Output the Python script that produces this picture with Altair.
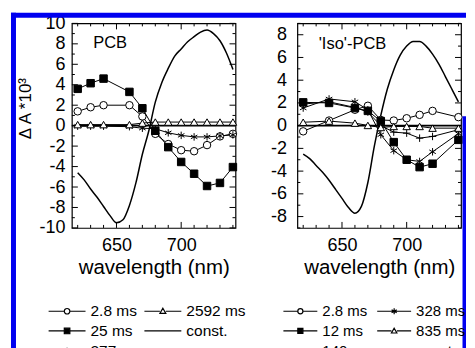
import altair as alt
import pandas as pd

FONT = "Liberation Sans"
BLUE = "#0000f0"

# ---------------- data: left panel (PCB) ----------------
L_WL = [620, 630, 640, 660, 670, 680, 690, 700, 710, 720, 730, 740]
L_2_8MS = [1.4, 1.8, 2.0, 2.0, 0.9, -0.8, -1.8, -2.4, -2.5, -1.9, -1.05, -0.8]
L_25MS = [3.6, 4.15, 4.6, 3.3, 1.7, -0.5, -2.1, -3.55, -4.7, -5.9, -5.6, -4.05]
L_277MS = [-0.05, -0.05, -0.05, -0.1, -0.25, -0.3, -0.7, -0.95, -1.1, -1.1, -1.0, -0.9]
L_2592MS = [0.1, 0.1, 0.1, 0.1, 0.25, 0.35, 0.35, 0.35, 0.35, 0.35, 0.35, 0.35]
L_CONST_WL = [620, 625, 630, 635, 640, 645, 650, 655, 660, 665, 670, 675, 680,
              685, 690, 695, 700, 705, 710, 715, 720, 725, 730, 735, 740]
L_CONST = [-4.6, -5.3, -6.2, -7.0, -7.9, -8.8, -9.5, -9.2, -7.8, -5.6, -2.8, -0.5, 2.3,
           4.2, 5.6, 6.8, 7.5, 8.2, 8.7, 9.15, 9.35, 9.0, 8.3, 7.1, 5.5]

# ---------------- data: right panel ('Iso'-PCB) ----------------
R_WL = [620, 640, 660, 670, 680, 690, 700, 710, 720, 740]
R_2_8MS = [-0.5, 0.45, 1.4, 1.75, 0.5, 0.45, 0.65, 0.95, 1.3, 0.75]
R_12MS = [2.05, 2.0, 1.55, 1.3, 0.4, -1.45, -3.0, -3.65, -3.35, -1.25]
R_140MS = [1.9, 2.1, 1.6, 1.2, 0.0, -0.57, -0.66, -1.1, -0.95, -0.36]
R_328MS = [1.55, 2.35, 2.1, 1.4, -0.8, -2.2, -3.0, -3.15, -2.3, -0.7]
R_835MS = [0.3, 0.4, 0.22, 0.02, -0.16, -0.07, -0.07, -0.07, -0.22, -0.22]
R_CONST_WL = [620, 625, 630, 635, 640, 645, 650, 655, 660, 665, 670, 675, 680,
              685, 690, 695, 700, 705, 710, 715, 720, 725, 730, 735, 740]
R_CONST = [-2.5, -2.9, -3.5, -4.1, -4.8, -5.6, -6.4, -7.2, -7.7, -7.1, -5.0, -1.8, 0.9,
           3.2, 4.9, 6.2, 7.0, 7.4, 7.4, 7.0, 6.3, 5.4, 4.3, 3.2, 2.1]

# ---------------- axes / ticks ----------------
X_DOMAIN = [615.5, 742]
X_MAJOR_TICKS = [650, 700]
X_MINOR_TICKS = [620, 630, 640, 660, 670, 680, 690, 710, 720, 730, 740]
L_Y_MAJOR = [-10, -8, -6, -4, -2, 0, 2, 4, 6, 8, 10]
L_Y_MINOR = [-9, -7, -5, -3, -1, 1, 3, 5, 7, 9]
R_Y_MAJOR = [-8, -6, -4, -2, 0, 2, 4, 6, 8]
R_Y_MINOR = [-9, -7, -5, -3, -1, 1, 3, 5, 7, 9]

# marker shapes (plot) and legend symbols
ASTERISK = "M0,-1L0,1M-0.87,-0.5L0.87,0.5M-0.87,0.5L0.87,-0.5"
PLUS = "M-1,0L1,0M0,-1L0,1"
LG_CIRCLE = "M-1,0L-0.15,0M0.15,0L1,0M0.15,0A0.15,0.15 0 1,1 -0.15,0A0.15,0.15 0 1,1 0.15,0Z"
LG_SQUARE = "M-1,0L-0.15,0M0.15,0L1,0M-0.15,-0.15L0.15,-0.15L0.15,0.15L-0.15,0.15Z"
LG_TRIANGLE = "M-1,0L-0.16,0M0.16,0L1,0M0,-0.16L0.16,0.12L-0.16,0.12Z"
LG_ASTER = "M-1,0L1,0M0,-0.17L0,0.17M-0.15,-0.09L0.15,0.09M-0.15,0.09L0.15,-0.09"
LG_PLUS = "M-1,0L1,0M0,-0.17L0,0.17"
LG_LINE = "M-1,0L1,0"

STYLE = {
    "circle": ("circle", "white", LG_CIRCLE),
    "square": ("square", "black", LG_SQUARE),
    "triangle": ("triangle-up", "white", LG_TRIANGLE),
    "aster": (ASTERISK, "transparent", LG_ASTER),
    "plus": (PLUS, "transparent", LG_PLUS),
}

LEFT_SERIES = [("2.8 ms", L_2_8MS, "circle"), ("25 ms", L_25MS, "square"),
               ("277 ms", L_277MS, "aster"), ("2592 ms", L_2592MS, "triangle")]
LEFT_LEGEND_ORDER = ["2.8 ms", "25 ms", "277 ms", "2592 ms", "const."]
RIGHT_SERIES = [("2.8 ms", R_2_8MS, "circle"), ("12 ms", R_12MS, "square"),
                ("140 ms", R_140MS, "plus"), ("328 ms", R_328MS, "aster"),
                ("835 ms", R_835MS, "triangle")]
RIGHT_LEGEND_ORDER = ["2.8 ms", "12 ms", "140 ms", "328 ms", "835 ms", "const."]

W, H = 164, 205


def panel(wl, series, cwl, cvals, ydom, ymaj, ymin, ytitle, ylabpad, note, note_x, note_y,
          order, leg_opts, decor):
    xs = alt.Scale(domain=X_DOMAIN, nice=False, zero=False)
    ys = alt.Scale(domain=ydom, nice=False, zero=False)
    rows = []
    for name, vals, _ in series:
        for w, v in zip(wl, vals):
            rows.append({"wl": w, "v": v, "series": name})
    df = pd.DataFrame(rows)
    cdf = pd.DataFrame({"wl": cwl, "v": cvals})

    ax_bottom = alt.Axis(orient="bottom", values=X_MAJOR_TICKS, labelExpr="'' + datum.value",
                         ticks=False, labelPadding=9, labelFontSize=18, labelColor="black",
                         labelOverlap=False, labelFlush=False, domain=False, grid=False,
                         title="wavelength (nm)", titleFontSize=20.5, titleFontWeight="normal",
                         titleColor="black", titleBaseline="alphabetic", titleY=46,
                         titleX=W / 2, titleAlign="center")
    left_kw = dict(orient="left", values=ymaj, labelExpr="'' + datum.value", ticks=False,
                   labelPadding=ylabpad, labelFontSize=18, labelColor="black",
                   labelOverlap=False, labelFlush=False, domain=False, grid=False)
    if ytitle:
        ax_left = alt.Axis(title=ytitle, titleFontSize=17, titleFontWeight="normal",
                           titleColor="black", titleAngle=270, titleX=-46, titleY=85,
                           titleAlign="center", titleBaseline="middle", **left_kw)
    else:
        ax_left = alt.Axis(title=None, **left_kw)

    layers = []
    # connecting lines
    layers.append(alt.Chart(df).mark_line(color="black", strokeWidth=1).encode(
        x=alt.X("wl:Q", scale=xs, axis=None),
        y=alt.Y("v:Q", scale=ys, axis=None),
        detail="series:N"))
    # const curve (carries the labelled axes)
    layers.append(alt.Chart(cdf).mark_line(color="black", strokeWidth=1.5,
                                           interpolate="monotone").encode(
        x=alt.X("wl:Q", scale=xs, axis=ax_bottom),
        y=alt.Y("v:Q", scale=ys, axis=ax_left)))
    # zero line
    layers.append(alt.Chart(pd.DataFrame({"v": [0]})).mark_rule(color="black", strokeWidth=1.6).encode(
        y=alt.Y("v:Q", scale=ys, axis=None)))
    # inward ticks on all four sides
    for vals, ln in ((X_MAJOR_TICKS, 6), (X_MINOR_TICKS, 3)):
        tdf = pd.DataFrame({"t": vals})
        for y0, y1 in ((H, H - ln), (0, ln)):
            layers.append(alt.Chart(tdf).mark_rule(color="black", strokeWidth=1).encode(
                x=alt.X("t:Q", scale=xs, axis=None), y=alt.value(y0), y2=alt.value(y1)))
    for vals, ln in ((ymaj, 6), (ymin, 3)):
        tdf = pd.DataFrame({"t": vals})
        for x0, x1 in ((0, ln), (W, W - ln)):
            layers.append(alt.Chart(tdf).mark_rule(color="black", strokeWidth=1).encode(
                y=alt.Y("t:Q", scale=ys, axis=None), x=alt.value(x0), x2=alt.value(x1)))
    # markers
    for name, _, st in series:
        shape, fill, _ = STYLE[st]
        layers.append(alt.Chart(df).transform_filter(alt.datum.series == name).mark_point(
            shape=shape, fill=fill, stroke="black", strokeWidth=1, size=56, opacity=1,
            filled=False).encode(
            x=alt.X("wl:Q", scale=xs, axis=None),
            y=alt.Y("v:Q", scale=ys, axis=None)))
    # panel label
    layers.append(alt.Chart(pd.DataFrame({"wl": [note_x], "v": [note_y], "t": [note]})).mark_text(
        align="left", baseline="middle", fontSize=16.5, font=FONT, color="black").encode(
        x=alt.X("wl:Q", scale=xs, axis=None),
        y=alt.Y("v:Q", scale=ys, axis=None), text="t:N"))
    # legend (symbols via scales)
    style_of = {name: st for name, _, st in series}
    lg_paths = [LG_LINE if n == "const." else STYLE[style_of[n]][2] for n in order]
    lg_fills = ["transparent" if n == "const." else STYLE[style_of[n]][1] for n in order]
    leg = alt.Legend(title=None, orient="none", legendY=278.5, columns=2, clipHeight=19.5,
                     rowPadding=0, labelOffset=4, labelFont=FONT, labelColor="black",
                     symbolStrokeColor="black", symbolStrokeWidth=1.2, padding=0,
                     labelLimit=300, **leg_opts)
    layers.append(alt.Chart(pd.DataFrame({"series": order})).transform_filter("false").mark_point(
        strokeWidth=1.2, opacity=1).encode(
        shape=alt.Shape("series:N", scale=alt.Scale(domain=order, range=lg_paths), legend=leg),
        fill=alt.Fill("series:N", scale=alt.Scale(domain=order, range=lg_fills), legend=leg),
        stroke=alt.Stroke("series:N", scale=alt.Scale(domain=order, range=["black"] * len(order)),
                          legend=leg)))
    # blue frame of the figure box
    for (x1, x2, y1, y2) in decor:
        layers.append(alt.Chart(pd.DataFrame({"a": [0]})).mark_rect(color=BLUE).encode(
            x=alt.value(x1), x2=alt.value(x2), y=alt.value(y1), y2=alt.value(y2)))
    return alt.layer(*layers).resolve_axis(x="independent", y="independent").properties(
        width=W, height=H)


left = panel(L_WL, LEFT_SERIES, L_CONST_WL, L_CONST, [-10, 10], L_Y_MAJOR, L_Y_MINOR,
             "Δ A *10³", 7, "PCB", 632, 8.1, LEFT_LEGEND_ORDER,
             dict(legendX=-24.3, symbolSize=1369, labelFontSize=15.5, columnPadding=2),
             [(-61, 395, -10.7, -5.7), (-61, -56, -10.7, 360)])
right = panel(R_WL, RIGHT_SERIES, R_CONST_WL, R_CONST, [-9, 9], R_Y_MAJOR, R_Y_MINOR,
              None, 11, "'Iso'-PCB", 632, 7.2, RIGHT_LEGEND_ORDER,
              dict(legendX=-15, symbolSize=1156, labelFontSize=15, columnPadding=4),
              [(165.5, 169, 93, 360)])

chart = alt.hconcat(left, right, spacing=62, bounds="flush").resolve_scale(
    shape="independent", fill="independent", stroke="independent").resolve_legend(
    shape="independent", fill="independent", stroke="independent").properties(
    padding={"left": 2, "top": 3, "right": 0, "bottom": 0}, background="white"
).configure(font=FONT).configure_view(stroke="black", strokeWidth=1.2)

chart.save("out.html", embed_options={"renderer": "svg", "actions": False})
